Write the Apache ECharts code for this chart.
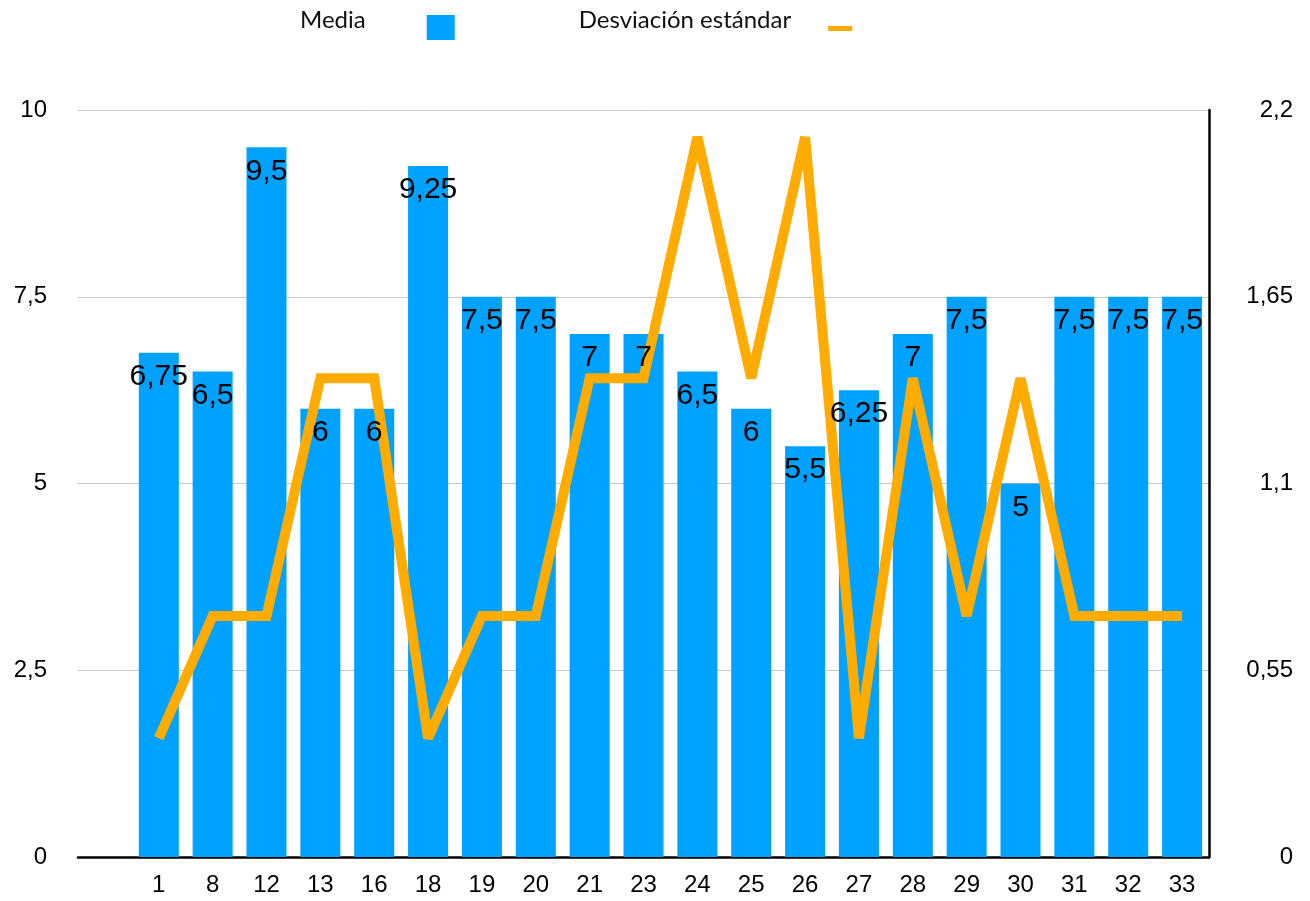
<!DOCTYPE html>
<html>
<head>
<meta charset="utf-8">
<script src="https://cdn.jsdelivr.net/npm/echarts@6/dist/echarts.min.js"></script>
<style>
  html, body { margin: 0; padding: 0; background: #fff; }
  #chart { width: 1310px; height: 901px; }
</style>
</head>
<body>
<div id="chart"></div>
<script>
// first slot is an empty category, the reference leaves a gap there
const categories = ['', '1', '8', '12', '13', '16', '18', '19', '20', '21', '23', '24', '25', '26', '27', '28', '29', '30', '31', '32', '33']
const media = [null, 6.75, 6.5, 9.5, 6, 6, 9.25, 7.5, 7.5, 7, 7, 6.5, 6, 5.5, 6.25, 7, 7.5, 5, 7.5, 7.5, 7.5]
const desviacion = [null, 0.35, 0.71, 0.71, 1.41, 1.41, 0.35, 0.71, 0.71, 1.41, 1.41, 2.12, 1.41, 2.12, 0.35, 1.41, 0.71, 1.41, 0.71, 0.71, 0.71]

const blue = '#00A2FF'
const orange = '#FFAB00'
const font = 'Liberation Sans'

// 3.5 -> "3,5"
const coma = v => String(Number(Number(v).toFixed(2))).replace('.', ',')

// legend icons sit lower than the text, so the paths carry an empty top part
const iconCuadro = 'path://M0,0M0,15L28,15L28,40L0,40Z'
const iconRaya = 'path://M0,0M28,40M2,26L26,26L26,31L2,31Z'

const chart = echarts.init(document.getElementById('chart'))
chart.setOption({
    animation: false,
    legend: {
        left: 300,
        top: 0,
        padding: 0,
        align: 'right',
        itemWidth: 28,
        itemHeight: 40,
        itemGap: 124,
        textStyle: {
            fontFamily: 'Lato',
            fontSize: 24,
            color: '#111'
        },
        data: [
            {
                name: 'Media',
                icon: iconCuadro,
                itemStyle: {color: blue, borderWidth: 0},
                textStyle: {padding: [0, 56, 0, 0]}
            },
            {
                name: 'Desviación estándar',
                icon: iconRaya,
                itemStyle: {color: orange, borderWidth: 0},
                textStyle: {padding: [0, 30, 0, 0]}
            }
        ]
    },
    grid: {
        left: 78,
        right: 101,
        top: 110,
        bottom: 44
    },
    xAxis: {
        type: 'category',
        data: categories,
        axisTick: {show: false},
        axisLine: {
            lineStyle: {color: '#000', width: 2.5}
        },
        axisLabel: {
            interval: 0,
            margin: 16,
            fontFamily: font,
            fontSize: 24,
            color: '#000'
        }
    },
    yAxis: [
        {
            type: 'value',
            min: 0,
            max: 10,
            interval: 2.5,
            axisLine: {show: false},
            axisTick: {show: false},
            splitLine: {
                lineStyle: {color: '#c8c8c8', width: 1}
            },
            axisLabel: {
                margin: 31,
                fontFamily: font,
                fontSize: 24,
                color: '#000',
                formatter: coma
            }
        },
        {
            type: 'value',
            position: 'right',
            min: 0,
            max: 2.2,
            interval: 0.55,
            axisLine: {
                show: true,
                lineStyle: {color: '#000', width: 2.5}
            },
            axisTick: {show: false},
            splitLine: {show: false},
            axisLabel: {
                align: 'right',
                margin: 84,
                fontFamily: font,
                fontSize: 24,
                color: '#000',
                formatter: coma
            }
        }
    ],
    series: [
        {
            name: 'Media',
            type: 'bar',
            data: media,
            barWidth: 40,
            z: 1,
            itemStyle: {color: blue}
        },
        {
            name: 'Desviación estándar',
            type: 'line',
            yAxisIndex: 1,
            data: desviacion,
            symbol: 'none',
            z: 2,
            itemStyle: {color: orange},
            lineStyle: {color: orange, width: 10, cap: 'butt', join: 'miter', miterLimit: 2}
        },
        {
            // same bars, transparent, only to keep the value labels above the line
            name: 'Media etiquetas',
            type: 'bar',
            data: media,
            barWidth: 40,
            barGap: '-100%',
            z: 3,
            silent: true,
            itemStyle: {color: 'rgba(0,0,0,0)'},
            label: {
                show: true,
                position: 'insideTop',
                distance: 9,
                fontFamily: font,
                fontSize: 30,
                color: '#000',
                formatter: p => coma(p.value)
            }
        }
    ]
})
</script>
</body>
</html>
